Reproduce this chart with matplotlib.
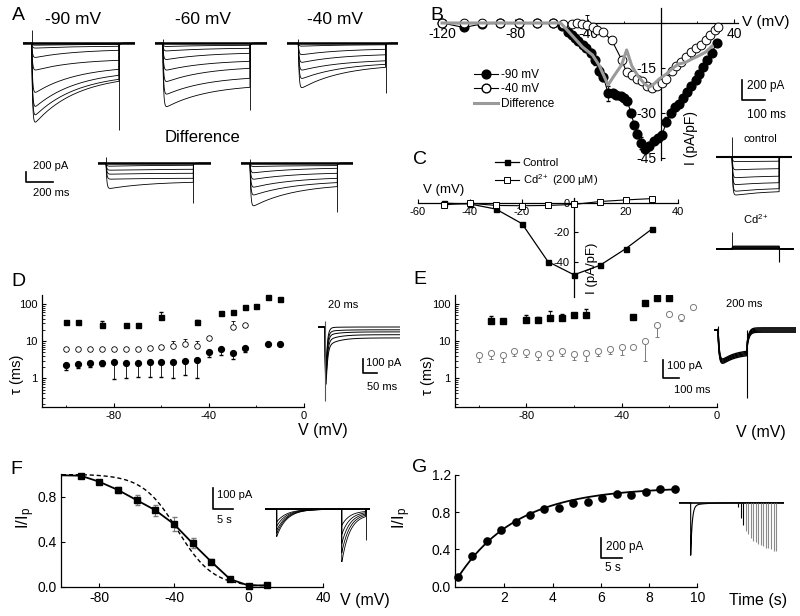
import numpy as np
import matplotlib.pyplot as plt
from matplotlib.lines import Line2D
from matplotlib.ticker import NullFormatter, FixedLocator

plt.rcParams['font.family'] = ['Liberation Sans', 'DejaVu Sans']
plt.rcParams['mathtext.fontset'] = 'custom'
plt.rcParams['mathtext.rm'] = 'Liberation Sans'
plt.rcParams['mathtext.it'] = 'Liberation Sans:italic'
plt.rcParams['axes.linewidth'] = 0.9

# ── Data ─────────────────────────────────────────────────────────────────────
# A: current families (pA), peak and end-of-step amplitude per sweep
A_STEP_MS = 655
A_TAU_INACT = 320
a90_peak = [40, 100, 300, 560, 1040, 1340, 1520, 1680]
a90_end = [20, 60, 140, 340, 520, 640, 720, 760]
a60_peak = [66, 160, 340, 560, 800, 1060, 1320]
a60_end = [40, 100, 200, 360, 500, 700, 880]
a40_peak = [60, 240, 400, 560, 740, 940]
a40_end = [30, 120, 230, 350, 420, 480]
adiff1_peak = [60, 140, 220, 320, 520]
adiff1_end = [40, 120, 200, 300, 380]
adiff2_peak = [66, 200, 334, 500, 666, 900]
adiff2_end = [46, 100, 200, 300, 386, 466]
a_spike_up = [266, 80, 80, 133, 80]
a_spike_down = [1740, 1333, 1000, 800, 967]

# B: I-V after -90 mV and -40 mV holding, and their difference (pA/pF)
b_v90 = [-120, -108, -98, -88, -78, -68, -59, -54, -51, -49, -47, -45.5, -43, -41,
         -38.5, -36, -34, -31.5, -29, -26.5, -24.5, -22, -20, -18.5, -16.4, -14.7,
         -13, -10.8, -8.5, -6.5, -4, -1.8, 0.5, 3, 5.4, 7.5, 9.7, 12, 14, 16.5, 19,
         20.9, 23, 25.5, 27.8, 30.5]
b_i90 = [0, -1.5, -0.3, 0, 0, 0, 0, -1, -3, -4, -5, -6, -7.3, -8.5, -10, -12.5, -16,
         -18, -23.5, -23.5, -24, -24.5, -25, -26, -30, -34, -37, -40, -42, -41,
         -39.5, -38.5, -37.5, -33, -30, -28, -27, -25, -23, -21, -19, -17, -14.7,
         -12.5, -10, -6.7]
b_err90 = [0, 0, 0, 0, 0, 0, 0, 0, 0, 0, 0, 0, 0, 0, 1.2, 1.5, 1.5, 1.2, 2.5, 1.0,
           1.0, 0.8, 0.8, 1.0, 1.0, 1.0, 1.2, 2.0, 1.5, 1.2, 1.0, 1.0, 1.2, 1.5,
           1.2, 1.0, 0.8, 0.8, 0.8, 0.8, 0.8, 0.8, 0.8, 0.8, 0.8, 0.8]
b_v40 = [-120, -108, -98, -88, -78, -68, -59, -53.6, -49, -46, -43.5, -40.5, -37.5,
         -35, -32, -27, -21.5, -18.8, -16, -13.3, -10.5, -7.8, -5, -2.3, 0.4, 3,
         5.9, 8.5, 11, 13.8, 16.6, 19, 21.8, 24.5, 27, 29.5, 31.3]
b_i40 = [0, 0, 0, 0, 0, 0, 0, -0.3, -0.3, 0, -0.3, -0.7, -1.3, -2.2, -3, -5.7,
         -12.3, -16.5, -17.3, -18.6, -19.3, -21, -21.7, -21, -20, -18.6, -16,
         -14.3, -13, -11.3, -9.7, -8.5, -7.2, -5.8, -4, -2.5, -1.3]
b_err40 = [1.2, 1.2, 1.2, 1.2, 1.2, 1.2, 1.0, 0, 0, 0, 0, 3.4, 0, 0, 0, 1.2, 1.0,
           1.0, 1.0, 1.0, 1.0, 1.0, 1.0, 1.0, 1.0, 1.0, 1.0, 1.0, 1.0, 1.0, 1.0,
           1.0, 1.0, 1.0, 1.0, 1.0, 1.0]
b_vdiff = [-120, -55, -50, -43, -37.5, -34, -29, -25.8, -21.6, -18.8, -16, -12.6,
           -9, -6.4, -3.8, -1, 3, 6, 9.5, 13.2, 17, 20.5, 24.5, 28]
b_idiff = [0, 0, -3.3, -8, -10.7, -14, -20.7, -17.7, -14, -9, -14.3, -17.7, -20.3,
           -21.4, -20.3, -18.7, -17, -15.3, -13.7, -13.2, -12, -11, -9.7, -7.7]
# B insets: control family and Cd2+ (pA)
B_STEP_MS = 205
b_ctrl_peak = [50, 133, 213, 283, 350, 390]
b_ctrl_end = [45, 120, 195, 260, 320, 350]
b_cd_level = [-5, -12, -20, -28]

# C: I-V control vs Cd2+ (pA/pF)
c_v = [-50, -40, -30, -20, -10, 0, 10, 20, 30]
c_ctrl = [0, -0.5, -4, -14, -40, -49, -42.5, -31, -17.6]
c_cd = [-1, 0, -1.5, -1.7, -1.5, -0.8, 1.2, 2.3, 3.2]

# D: time constants (ms)
d_v_sq = [-100, -95, -85, -75, -70, -60, -45, -35, -30, -25, -20, -15, -10]
d_tau_sq = [33, 33, 27, 28, 28, 45, 33, 56, 60, 85, 87, 150, 140]
d_err_sq = [0, 0, 8.5, 0, 0, 17, 4, 0, 0, 0, 0, 0, 0]
d_v_oc = [-100, -95, -90, -85, -80, -75, -70, -65, -60, -55, -50, -45, -40, -30, -25]
d_tau_oc = [6.0, 6.0, 6.2, 6.0, 6.2, 6.0, 6.2, 6.5, 6.8, 7.5, 8.3, 7.3, 11.9, 23.5, 27]
d_err_oc = [0, 0, 0, 0, 0, 0, 0, 0, 1.0, 2.5, 3.4, 2.7, 0, 11, 0]
d_v_fc = [-100, -95, -90, -85, -80, -75, -70, -65, -60, -55, -50, -45, -40, -35,
          -30, -25, -15, -10]
d_tau_fc = [2.3, 2.4, 2.6, 2.6, 2.8, 2.6, 2.6, 2.7, 2.7, 2.8, 3.0, 3.2, 5.2, 6.3,
            4.8, 6.4, 8.3, 8.6]
d_err_fc = [0.63, 0.5, 0.6, 0.5, 1.85, 1.6, 1.5, 1.6, 1.6, 1.8, 1.8, 2.2, 1.4, 2.0,
            1.5, 1.2, 0, 0.8]
# D inset tail currents (pA)
d_ins_ss = [0, 20, 35, 55, 78]
d_ins_slow = [5, 15, 30, 50, 70]
d_ins_fast = [620, 640, 660, 680, 700]

# E: time constants (ms)
e_v_sq = [-95, -90, -80, -75, -70, -65, -60, -55, -35, -30, -25, -20]
e_tau_sq = [35.5, 34, 37, 37, 41, 41, 50, 50, 44, 108, 141, 145]
e_err_sq = [11.5, 0, 12.6, 8, 24, 14, 0, 23, 4, 0, 0, 55]
e_v_oc = [-100, -95, -90, -85, -80, -75, -70, -65, -60, -55, -50, -45, -40, -35,
          -30, -25, -20, -15, -10]
e_tau_oc = [4.2, 4.9, 4.3, 5.5, 5.1, 4.6, 4.8, 5.4, 4.6, 4.8, 5.4, 6.3, 7.2, 7.2,
            10, 27, 52.5, 44, 84]
e_err_oc = [1.4, 1.6, 1.5, 1.5, 1.3, 1.5, 1.6, 1.4, 1.5, 1.8, 1.4, 1.7, 3.0, 0,
            7, 14, 0, 9, 0]
# E inset (pA)
E_STEP_MS = 175
e_ins_offset = [-12, -6, 0, 6, 12]
e_band_early = 200
e_band_late = 120
e_tail = 80

# F: steady-state inactivation
f_v = [-100, -90, -80, -70, -60, -50, -40, -30, -20, -10, 0, 10]
f_i = [0.99, 0.987, 0.933, 0.86, 0.77, 0.68, 0.557, 0.385, 0.222, 0.068, 0.01, 0.013]
f_err = [0, 0.01, 0.015, 0.03, 0.045, 0.05, 0.06, 0.045, 0.02, 0.015, 0.01, 0]
f_dash_vhalf = -38.0
f_dash_k = 9.5
# F inset (pA)
F_TEST_S = 16.25
F_END_S = 22.3
f_ins_pk1 = [60, 80, 100, 115, 130]
f_ins_pk2 = [233, 190, 150, 110, 70]

# G: recovery from inactivation
g_t = [0.06, 0.66, 1.26, 1.86, 2.46, 3.06, 3.66, 4.26, 4.86, 5.46, 6.06, 6.66,
       7.26, 7.86, 8.46, 9.06]
g_i = [0.10, 0.33, 0.495, 0.61, 0.69, 0.77, 0.835, 0.85, 0.90, 0.91, 0.95, 0.995,
       0.985, 1.015, 1.045, 1.045]
g_fit_a, g_fit_b, g_fit_tau = 1.07, 1.0, 2.45
# G inset (pA)
G_TRAIN_START = 11.26
G_INS_PEAK = 460
g_ins_first = 500

# ── Figure scaffolding ───────────────────────────────────────────────────────
W, H = 800, 616
fig = plt.figure(figsize=(W / 100, H / 100), dpi=100)

ov = fig.add_axes([0, 0, 1, 1])
ov.set_xlim(0, W)
ov.set_ylim(H, 0)
ov.axis('off')
ov.set_zorder(10)


def px_axes(x0, y0, x1, y1):
    ax = fig.add_axes([x0 / W, 1 - y1 / H, (x1 - x0) / W, (y1 - y0) / H])
    ax.patch.set_visible(False)
    return ax


def trace_axes(x_on, y_base, x0, x1, y0, y1, t_per_px, i_per_px):
    ax = px_axes(x0, y0, x1, y1)
    ax.set_xlim((x0 - x_on) * t_per_px, (x1 - x_on) * t_per_px)
    ax.set_ylim(-(y1 - y_base) * i_per_px, (y_base - y0) * i_per_px)
    ax.axis('off')
    return ax


def step_current(t, dur, peak, end, tau_in, tau_act, tail=0.0, tail_tau=8.0):
    i = np.zeros_like(t)
    on = (t >= 0) & (t < dur)
    kT = np.exp(-dur / tau_in)
    inact = end + (peak - end) * (np.exp(-t[on] / tau_in) - kT) / (1 - kT)
    i[on] = -inact * (1 - np.exp(-t[on] / tau_act))
    off = t >= dur
    i[off] = -tail * np.exp(-(t[off] - dur) / tail_tau)
    return i


def scale_bar(x, y_top, y_bot, x_right):
    ov.plot([x, x, x_right], [y_top, y_bot, y_bot], color='k', lw=1.2)


def style_axes(ax, size):
    for s in ('top', 'right'):
        ax.spines[s].set_visible(False)
    ax.tick_params(direction='in', length=3, width=0.8, labelsize=size, pad=3)
    ax.tick_params(which='minor', direction='in', length=1.8, width=0.6)


# ── A: current families ──────────────────────────────────────────────────────
a_layout = [(31.7, 43.3, 23, 135, 24, 136), (162.7, 43.3, 155, 267, 24, 136),
            (298.3, 43.3, 287, 398, 24, 136), (106, 163.3, 98, 211, 150, 216),
            (250, 163.3, 241, 353, 150, 216)]
a_peaks = [a90_peak, a60_peak, a40_peak, adiff1_peak, adiff2_peak]
a_ends = [a90_end, a60_end, a40_end, adiff1_end, adiff2_end]
for (xo, yb, x0, x1, y0, y1), pk, en, up, dn in zip(a_layout, a_peaks, a_ends,
                                                   a_spike_up, a_spike_down):
    ax = trace_axes(xo, yb, x0, x1, y0, y1, 7.5, 20)
    t = np.linspace(*ax.get_xlim(), 1500)
    for p, e in zip(pk, en):
        ax.plot(t, step_current(t, A_STEP_MS, p, e, A_TAU_INACT, 6, tail=0.06 * e),
                color='k', lw=0.6)
    ax.plot(ax.get_xlim(), [0, 0], color='k', lw=1.8)
    ax.vlines(0, 0, up, color='k', lw=0.6)
    ax.vlines(A_STEP_MS, -dn, 0, color='k', lw=0.6)

for x, s in [(73, '-90 mV'), (203, '-60 mV'), (335, '-40 mV')]:
    ov.text(x, 20, s, fontsize=12.5, ha='center', va='center')
ov.text(202, 137, 'Difference', fontsize=12, ha='center', va='center')
scale_bar(26, 171.7, 181.7, 52.7)
ov.text(33, 166, '200 pA', fontsize=8, va='center')
ov.text(33, 193, '200 ms', fontsize=8, va='center')

# ── B: I-V relations ─────────────────────────────────────────────────────────
axB = px_axes(440.2, 8, 737.6, 160)
axB.set_xlim(-121, 42)
axB.set_ylim(-45.7, 5)
axB.spines['left'].set_position(('data', 0))
axB.spines['bottom'].set_position(('data', 0))
style_axes(axB, 10)
axB.set_xticks([-120, -80, -40, 0, 40], ['-120', '-80', '-40', '', '40'])
axB.set_xticks([-100, -60, -20, 20], minor=True)
axB.set_yticks([-45, -30, -15, 0], ['-45', '-30', '-15', ''])
axB.errorbar(b_v90, b_i90, yerr=b_err90, fmt='-o', color='k', mfc='k', ms=6.3,
             lw=0.8, elinewidth=0.6, capsize=1.5, zorder=3, clip_on=False)
axB.errorbar(b_v40, b_i40, yerr=b_err40, fmt='-o', color='k', mfc='white', ms=6.3,
             lw=0.8, mew=0.7, elinewidth=0.6, capsize=1.5, zorder=4, clip_on=False)
axB.plot(b_vdiff, b_idiff, color='#9a9a9a', lw=2.2, zorder=5)
h_b = [Line2D([], [], color='k', lw=0.8, marker='o', ms=6.3, mfc='k'),
       Line2D([], [], color='k', lw=0.8, marker='o', ms=6.3, mfc='white'),
       Line2D([], [], color='#9a9a9a', lw=2.2)]
axB.legend(h_b, ['-90 mV', '-40 mV', 'Difference'], loc='upper left',
           bbox_to_anchor=(474 / W, 1 - 69 / H), bbox_transform=fig.transFigure,
           frameon=False, fontsize=8.5, handlelength=2.0, handletextpad=0.3,
           labelspacing=0.2, borderpad=0, borderaxespad=0)
ov.text(766, 22, 'V (mV)', fontsize=11, ha='center', va='center')
ov.text(691, 138, 'I (pA/pF)', fontsize=10, ha='center', va='center', rotation=90)
scale_bar(742, 80, 100, 765)
ov.text(747, 86, '200 pA', fontsize=8.5, va='center')
ov.text(766, 115, '100 ms', fontsize=8.5, ha='center', va='center')

ax = trace_axes(732, 156.7, 716, 792, 130, 200, 100 / 23, 10)
t = np.linspace(*ax.get_xlim(), 1200)
for p, e in zip(b_ctrl_peak, b_ctrl_end):
    ax.plot(t, step_current(t, B_STEP_MS, p, e, 150, 3, tail=0.05 * e),
            color='k', lw=0.6)
ax.plot(ax.get_xlim(), [0, 0], color='k', lw=1.5)
ax.vlines(0, 0, 200, color='k', lw=0.6)
ov.text(760, 139, 'control', fontsize=8, ha='center', va='center')

ax = trace_axes(732, 249, 716, 794, 226, 266, 100 / 23, 10)
t = np.linspace(*ax.get_xlim(), 1200)
for lv in b_cd_level:
    ax.plot(t, step_current(t, B_STEP_MS, lv, lv, 150, 2), color='k', lw=0.9)
ax.plot(ax.get_xlim(), [0, 0], color='k', lw=1.2)
ax.vlines(0, 0, 173, color='k', lw=0.6)
ax.vlines(B_STEP_MS, -127, 0, color='k', lw=0.8)
ov.text(756, 219, 'Cd$^{2+}$', fontsize=8, ha='center', va='center')

# ── C: control vs Cd2+ ───────────────────────────────────────────────────────
axC = px_axes(418, 198, 678, 297)
axC.set_xlim(-60, 40)
axC.set_ylim(-64.2, 3.6)
axC.spines['left'].set_position(('data', 0))
axC.spines['bottom'].set_position(('data', 0))
style_axes(axC, 8)
axC.set_xticks([-60, -40, -20, 0, 20, 40], ['-60', '-40', '-20', '', '20', '40'])
axC.set_yticks([-40, -20, 0], ['-40', '-20', '0'])
axC.plot(c_v, c_ctrl, '-s', color='k', ms=3.6, lw=0.9, clip_on=False, zorder=3)
axC.plot(c_v, c_cd, '-s', color='k', mfc='white', ms=3.8, mew=0.7, lw=0.8,
         clip_on=False, zorder=4)
h_c = [Line2D([], [], color='k', lw=0.9, marker='s', ms=3.6),
       Line2D([], [], color='k', lw=0.8, marker='s', ms=3.8, mfc='white', mew=0.7)]
axC.legend(h_c, ['Control', 'Cd$^{2+}$ (200 \u03bcM)'], loc='upper left',
           bbox_to_anchor=(495 / W, 1 - 158 / H), bbox_transform=fig.transFigure,
           frameon=False, fontsize=8, handlelength=2.2, handletextpad=0.3,
           labelspacing=0.35, borderpad=0, borderaxespad=0)
ov.text(444, 190, 'V (mV)', fontsize=9.5, ha='center', va='center')
ov.text(592, 268, 'I (pA/pF)', fontsize=9.5, ha='center', va='center', rotation=90)

# ── D and E: time constants ──────────────────────────────────────────────────
axD = px_axes(41.7, 295, 304, 406.7)
axE = px_axes(455, 295, 716.7, 406.7)
for ax, lo in [(axD, -110.4), (axE, -110)]:
    ax.set_yscale('log')
    ax.set_xlim(lo, 0)
    ax.set_ylim(0.173, 175)
    style_axes(ax, 8)
    ax.set_xticks([-80, -40, 0], ['-80', '-40', '0'])
    ax.set_yticks([1, 10, 100], ['1', '10', '100'])
    ax.yaxis.set_minor_formatter(NullFormatter())
    ax.xaxis.set_minor_locator(FixedLocator([-100, -60, -20]))

z_sq = np.zeros(len(d_err_sq))
axD.errorbar(d_v_sq, d_tau_sq, yerr=[z_sq, d_err_sq], fmt='s', color='k', ms=3.6,
             elinewidth=0.6, capsize=1.5, clip_on=False)
axD.errorbar(d_v_oc, d_tau_oc, yerr=[np.zeros(len(d_err_oc)), d_err_oc], fmt='o',
             color='k', mfc='white', mew=0.6, ms=4.0, elinewidth=0.6, capsize=1.5)
axD.errorbar(d_v_fc, d_tau_fc, yerr=[d_err_fc, np.zeros(len(d_err_fc))], fmt='o',
             color='k', ms=4.2, elinewidth=0.6, capsize=1.5)
axE.errorbar(e_v_sq, e_tau_sq, yerr=[np.zeros(len(e_err_sq)), e_err_sq], fmt='s',
             color='k', ms=3.8, elinewidth=0.6, capsize=1.5)
axE.errorbar(e_v_oc, e_tau_oc, yerr=[e_err_oc, np.zeros(len(e_err_oc))], fmt='o',
             color='#7a7a7a', mfc='white', mew=0.7, ms=4.4, elinewidth=0.7,
             capsize=1.5)

for x, y in [(17, 374), (428, 375)]:
    ov.text(x, y, '\u03c4 (ms)', fontsize=10.5, ha='center', va='center', rotation=90)
ov.text(323, 430, 'V (mV)', fontsize=11.5, ha='center', va='center')
ov.text(761, 433, 'V (mV)', fontsize=11.5, ha='center', va='center')

# D inset
ax = trace_axes(325, 327, 318, 400, 318, 402, 50 / 14, 100 / 14)
t = np.linspace(*ax.get_xlim(), 1500)
for ss, sl, fa in zip(d_ins_ss, d_ins_slow, d_ins_fast):
    i = -(ss + sl * np.exp(-t / 40) + fa * np.exp(-t / 5)) * (1 - np.exp(-t / 2))
    ax.plot(t, np.where(t >= 0, i, 0), color='k', lw=0.7)
ax.vlines(0, -530, 40, color='#555555', lw=0.8)
ov.text(343, 305, '20 ms', fontsize=8, ha='center', va='center')
scale_bar(363, 359, 373, 377)
ov.text(366, 363, '100 pA', fontsize=8, va='center')
ov.text(382, 387, '50 ms', fontsize=8, ha='center', va='center')

# E inset
ax = trace_axes(718, 330, 714, 796, 320, 402, 6, 5.5)
t = np.linspace(*ax.get_xlim(), 1500)
for o in e_ins_offset:
    band = -(e_band_late + (e_band_early - e_band_late) * np.exp(-t / 80)) \
        * (1 - np.exp(-t / 8)) + o
    after = -e_tail * np.exp(-(t - E_STEP_MS) / 12) + o
    i = np.where(t < 0, 0, np.where(t < E_STEP_MS, band, after))
    ax.plot(t, i, color='k', lw=1.0)
ax.vlines(0, -20, 20, color='k', lw=0.8)
ax.vlines(E_STEP_MS, -374, 0, color='k', lw=0.8)
ov.text(744, 304, '200 ms', fontsize=8, ha='center', va='center')
scale_bar(663, 360, 378, 679)
ov.text(667, 366, '100 pA', fontsize=8, va='center')
ov.text(692, 390, '100 ms', fontsize=8, ha='center', va='center')

# ── F: steady-state inactivation ─────────────────────────────────────────────
axF = px_axes(61, 474.2, 323.3, 586.7)
axF.set_xlim(-100.5, 40)
axF.set_ylim(0, 1.0)
style_axes(axF, 10)
axF.set_xticks([-80, -40, 0, 40], ['-80', '-40', '0', '40'])
axF.set_yticks([0, 0.4, 0.8], ['0.0', '0.4', '0.8'])
vv = np.linspace(-100, 10, 300)
axF.plot(vv, 1 / (1 + np.exp((vv - f_dash_vhalf) / f_dash_k)), color='k',
         ls=(0, (3, 2)), lw=1.0)
axF.plot(f_v, f_i, color='k', lw=1.3, clip_on=False)
axF.errorbar(f_v[1:], f_i[1:], yerr=f_err[1:], fmt='s', color='k', ms=4.4,
             ecolor='#7a7a7a', elinewidth=0.7, capsize=1.8, clip_on=False, zorder=4)
ov.text(26, 518, 'I/I$_\\mathregular{p}$', fontsize=12, ha='center', va='center',
        rotation=90)
ov.text(365, 600, 'V (mV)', fontsize=11.5, ha='center', va='center')

ax = trace_axes(276.7, 509.3, 265, 370, 495, 562, 0.25, 100 / 21)
t = np.linspace(*ax.get_xlim(), 2000)
for p1, p2 in zip(f_ins_pk1, f_ins_pk2):
    pre = -p1 * np.exp(-t / 2.5)
    test = -p2 * (np.exp(-(t - F_TEST_S) / 2.0) + 0.1)
    i = np.where(t < 0, 0, np.where(t < F_TEST_S, pre, np.where(t < F_END_S, test, 0)))
    ax.plot(t, i, color='k', lw=0.6)
ax.plot(ax.get_xlim(), [0, 0], color='k', lw=1.4)
ax.vlines(F_END_S, -146, 0, color='k', lw=0.6)
scale_bar(213.3, 488, 509, 233)
ov.text(217, 495, '100 pA', fontsize=8, va='center')
ov.text(224, 520, '5 s', fontsize=8, ha='center', va='center')

# ── G: recovery from inactivation ────────────────────────────────────────────
axG = px_axes(455, 475, 697.3, 586.7)
axG.set_xlim(-0.05, 10)
axG.set_ylim(0, 1.2)
style_axes(axG, 10)
axG.set_xticks([2, 4, 6, 8, 10], ['2', '4', '6', '8', '10'])
axG.set_yticks([0, 0.4, 0.8, 1.2], ['0.0', '0.4', '0.8', '1.2'])
tt = np.linspace(g_t[0], g_t[-1], 300)
axG.plot(tt, g_fit_a - g_fit_b * np.exp(-tt / g_fit_tau), color='k', lw=1.3)
axG.plot(g_t, g_i, 'o', color='k', ms=5.2, clip_on=False)
ov.text(402, 518, 'I/I$_\\mathregular{p}$', fontsize=12, ha='center', va='center',
        rotation=90)
ov.text(758, 601, 'Time (s)', fontsize=11.5, ha='center', va='center')

ax = trace_axes(690.7, 502.7, 679, 784, 495, 556, 5 / 21, 10)
t = np.linspace(*ax.get_xlim(), 2000)
first = -(g_ins_first * np.exp(-t / 0.35) + 30 * np.exp(-t / 3))
ax.plot(t, np.where(t >= 0, first, 0), color='k', lw=0.8)
ax.plot(ax.get_xlim(), [0, 0], color='k', lw=1.2)
pulse_t = G_TRAIN_START + np.array(g_t)
pulse_d = G_INS_PEAK * np.array(g_i)
ax.vlines(pulse_t, -pulse_d, 0, colors=['k'] * 3 + ['#8a8a8a'] * (len(g_t) - 3),
          lw=0.8)
scale_bar(600.7, 538, 558, 621.7)
ov.text(606, 547, '200 pA', fontsize=8.5, va='center')
ov.text(613, 568, '5 s', fontsize=8.5, ha='center', va='center')

# ── Panel letters ────────────────────────────────────────────────────────────
for x, y, s in [(18, 15, 'A'), (437, 15, 'B'), (420, 159, 'C'), (18, 281, 'D'),
                (420, 280, 'E'), (16, 470, 'F'), (420, 467, 'G')]:
    ov.text(x, y, s, fontsize=14, ha='center', va='center')

fig.savefig('out.png', dpi=100)
